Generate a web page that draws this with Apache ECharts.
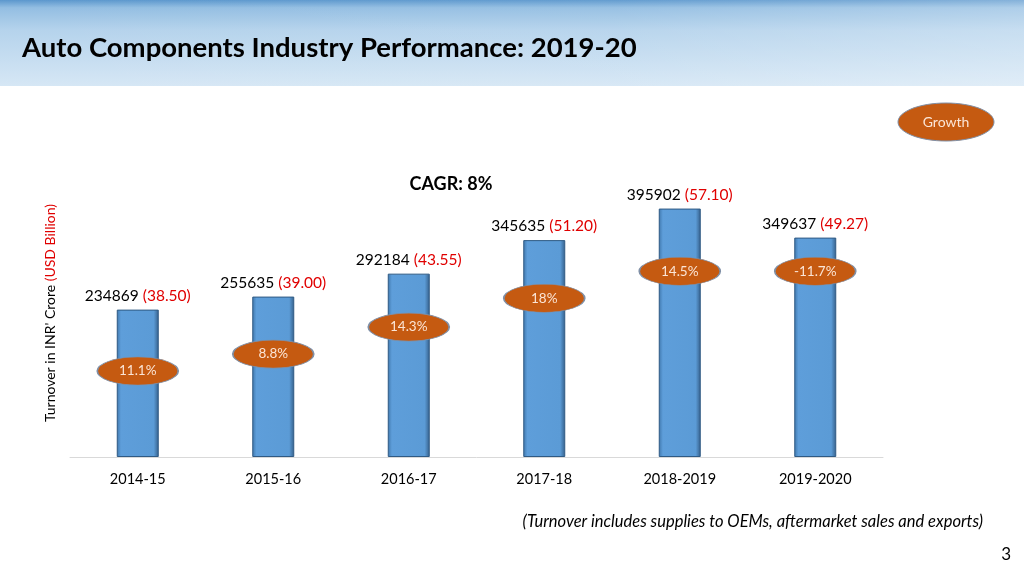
<!DOCTYPE html>
<html><head><meta charset="utf-8">
<script src="https://cdn.jsdelivr.net/npm/echarts@6/dist/echarts.min.js"></script>
<style>html,body{margin:0;padding:0;background:#fff}#c{width:1024px;height:576px}</style>
</head><body><div id="c"></div>
<script>
const categories = ['2014-15', '2015-16', '2016-17', '2017-18', '2018-2019', '2019-2020'];
const turnoverINR = [234869, 255635, 292184, 345635, 395902, 349637];
const turnoverUSD = ['38.50', '39.00', '43.55', '51.20', '57.10', '49.27'];
const growthLabels = ['11.1%', '8.8%', '14.3%', '18%', '14.5%', '-11.7%'];
const growthAnchor = [137000, 164000, 207000, 253000, 296000, 296000];

const FONT = 'Lato, "Open Sans", sans-serif';
const chart = echarts.init(document.getElementById('c'), null, {renderer: 'canvas'});

const barData = turnoverINR.map((v, i) => ({value: v, usd: turnoverUSD[i]}));
const growthData = growthLabels.map((g, i) => ({value: [categories[i], growthAnchor[i]], g: g}));

chart.setOption({
  animation: false,
  backgroundColor: '#ffffff',
  textStyle: {fontFamily: FONT},
  graphic: [
    {type: 'rect', z: -10, shape: {x: 0, y: 0, width: 1024, height: 86},
     style: {fill: new echarts.graphic.LinearGradient(0, 0, 0, 1, [
       {offset: 0, color: '#5B97CD'}, {offset: 0.09, color: '#93BEE2'},
       {offset: 0.35, color: '#B5D3EC'}, {offset: 1, color: '#D6E7F5'}])}},
    {type: 'rect', z: -9, shape: {x: 0, y: 0, width: 1024, height: 86},
     style: {fill: new echarts.graphic.LinearGradient(0, 0, 1, 0, [
       {offset: 0, color: 'rgba(255,255,255,0)'}, {offset: 0.6, color: 'rgba(255,255,255,0.05)'},
       {offset: 1, color: 'rgba(255,255,255,0.25)'}])}},
    {type: 'text', z: 10, x: 22, y: 48,
     style: {text: 'Auto Components Industry Performance: 2019-20', fill: '#000', font: 'bold 27.5px ' + FONT, verticalAlign: 'middle'}},
    {type: 'ellipse', z: 5, shape: {cx: 946, cy: 122, rx: 48, ry: 19},
     style: {fill: '#C55A11', stroke: '#7F8FA6', lineWidth: 1}},
    {type: 'text', z: 6, x: 946, y: 122,
     style: {text: 'Growth', fill: '#FBE5D6', font: '14px ' + FONT, align: 'center', verticalAlign: 'middle'}},
    {type: 'text', z: 6, x: 451, y: 184,
     style: {text: 'CAGR: 8%', fill: '#000', font: 'bold 18px ' + FONT, align: 'center', verticalAlign: 'middle'}},
    {type: 'text', z: 6, x: 50, y: 313, rotation: Math.PI / 2,
     style: {text: "{b|Turnover in INR' Crore }{r|(USD Billion)}", align: 'center', verticalAlign: 'middle',
             rich: {b: {fill: '#000', fontSize: 14, fontFamily: FONT}, r: {fill: '#E00000', fontSize: 14, fontFamily: FONT}}}},
    {type: 'text', z: 6, x: 983, y: 522,
     style: {text: '(Turnover includes supplies to OEMs, aftermarket sales and exports)', fill: '#000',
             font: 'italic 16.5px ' + FONT, align: 'right', verticalAlign: 'middle'}},
    {type: 'text', z: 6, x: 1011, y: 555,
     style: {text: '3', fill: '#000', font: '17px ' + FONT, align: 'right', verticalAlign: 'middle'}}
  ],
  grid: {left: 70, right: 141, top: 206, bottom: 119},
  xAxis: {
    type: 'category', data: categories,
    axisLine: {lineStyle: {color: '#D9D9D9'}}, axisTick: {show: false},
    axisLabel: {color: '#000', fontSize: 14.5, margin: 15, fontFamily: FONT}
  },
  yAxis: {
    type: 'value', min: 0, max: 400000,
    splitLine: {show: false}, axisLine: {show: false}, axisTick: {show: false}, axisLabel: {show: false}
  },
  series: [
    {
      type: 'bar', data: barData, barWidth: 42,
      itemStyle: {
        color: new echarts.graphic.LinearGradient(0, 0, 1, 0, [
          {offset: 0, color: '#3F77AC'}, {offset: 0.1, color: '#5E9EDA'},
          {offset: 0.88, color: '#5B9BD6'}, {offset: 1, color: '#355F89'}]),
        borderColor: '#2F5A84', borderWidth: 1
      },
      label: {
        show: true, position: 'top', distance: 6,
        formatter: p => '{b|' + p.value + ' }{r|(' + p.data.usd + ')}',
        rich: {b: {color: '#000', fontSize: 15.5, fontFamily: FONT}, r: {color: '#E00000', fontSize: 15.5, fontFamily: FONT}}
      },
      z: 2
    },
    {
      type: 'scatter', data: growthData, symbol: 'circle', symbolSize: [81, 28], z: 5,
      itemStyle: {color: '#C55A11', borderColor: '#7F8FA6', borderWidth: 1, opacity: 1},
      label: {show: true, position: 'inside', formatter: p => p.data.g, color: '#FBE5D6', fontSize: 13.5, fontFamily: FONT},
      emphasis: {disabled: true}
    }
  ]
});
</script></body></html>
